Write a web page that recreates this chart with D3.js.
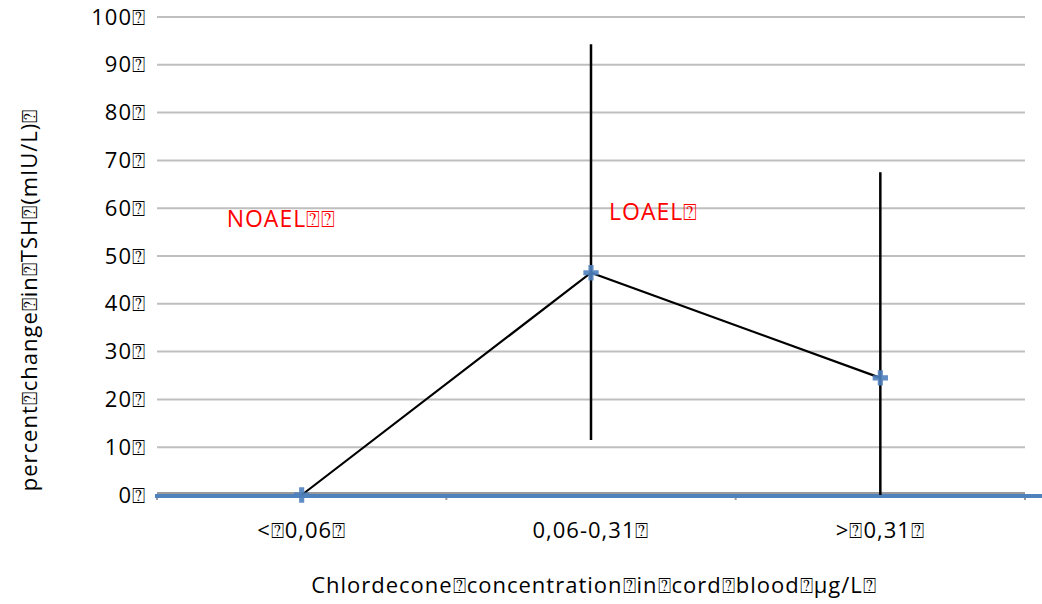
<!DOCTYPE html>
<html><head><meta charset="utf-8">
<script src="https://cdn.jsdelivr.net/npm/d3@7"></script>
<style>body{margin:0;background:#fff}svg{font-family:"Open Sans",sans-serif}</style>
</head><body><svg id="c" width="1042" height="604"></svg>
<script>
const B = "\u2370";
const categories = ["<" + B + "0,06" + B, "0,06-0,31" + B, ">" + B + "0,31" + B];
const values = [0, 46.5, 24.5];
const errLow = [0, 11.5, 0];
const errHigh = [0, 94.3, 67.5];
const yTicks = [0,10,20,30,40,50,60,70,80,90,100];
const yTickLabels = yTicks.map(d => d + B);
const annotations = [{text:"NOAEL" + B + B, cat:0, y:56}, {text:"LOAEL" + B, cat:1, y:57.5}];
const xTitle = "Chlordecone" + B + "concentration" + B + "in" + B + "cord" + B + "blood" + B + "µg/L" + B;
const yTitle = "percent" + B + "change" + B + "in" + B + "TSH" + B + "(mIU/L)" + B;

const svg = d3.select("#c");
const x = d3.scaleBand().domain(categories).range([157, 1025]);
const y = d3.scaleLinear().domain([0, 100]).range([495, 17]);

svg.append("g").selectAll("line").data(yTicks.filter(d=>d>0)).join("line")
  .attr("x1", 157).attr("x2", 1025).attr("y1", d=>y(d)).attr("y2", d=>y(d))
  .attr("stroke", "#bfbfbf").attr("stroke-width", 2);

svg.append("g").selectAll("text").data(yTicks).join("text")
  .attr("x", 146).attr("y", d=>y(d)+7.5).attr("text-anchor","end")
  .attr("font-size", 22).attr("letter-spacing", 1).attr("fill","#000").text((d,i)=>yTickLabels[i]);

svg.append("line").attr("x1",157).attr("x2",1025).attr("y1",y(0)-2).attr("y2",y(0)-2).attr("stroke","#9a9a9a").attr("stroke-width",2);
const bounds = [157].concat(categories.map(c=>x(c)+x.bandwidth()));
svg.append("g").selectAll("line").data(bounds).join("line")
  .attr("x1",d=>d).attr("x2",d=>d).attr("y1",y(0)).attr("y2",y(0)+5).attr("stroke","#9a9a9a").attr("stroke-width",2);
svg.append("line").attr("x1",155).attr("x2",1042).attr("y1",y(0)+1).attr("y2",y(0)+1).attr("stroke","#4f81bd").attr("stroke-width",4);

svg.append("g").selectAll("text").data(categories).join("text")
  .attr("x", d=>x(d)+x.bandwidth()/2).attr("y", 538).attr("text-anchor","middle")
  .attr("font-size", 22).attr("letter-spacing", 1).text(d=>d);

svg.append("g").selectAll("line").data(categories).join("line")
  .attr("x1", d=>x(d)+x.bandwidth()/2).attr("x2", d=>x(d)+x.bandwidth()/2)
  .attr("y1", (d,i)=>y(errLow[i])).attr("y2", (d,i)=>y(errHigh[i]))
  .attr("stroke","#000").attr("stroke-width",2.5);

const pts = categories.map((c,i)=>[x(c)+x.bandwidth()/2, y(values[i])]);
svg.append("path").attr("d", d3.line()(pts)).attr("fill","none").attr("stroke","#000").attr("stroke-width",2.2);

const sym = d3.symbol().type(d3.symbolCross).size(130);
svg.append("g").selectAll("path").data(pts).join("path")
  .attr("transform", d=>`translate(${d[0]},${d[1]})`).attr("d", sym)
  .attr("fill","#4f81bd").attr("opacity",0.9);

svg.append("g").selectAll("text").data(annotations).join("text")
  .attr("x", d=>x(categories[d.cat])+x.bandwidth()/2 - (d.cat===0?75:-18)).attr("y", d=>y(d.y))
  .attr("font-size", 23).attr("letter-spacing", 1).attr("fill","#ff0000").text(d=>d.text);

svg.append("text").attr("x", 594).attr("y", 593).attr("text-anchor","middle").attr("font-size",22).attr("letter-spacing", 1).text(xTitle);
svg.append("text").attr("transform","translate(37,300) rotate(-90)").attr("text-anchor","middle").attr("font-size",22).attr("letter-spacing", 1).text(yTitle);
</script></body></html>
